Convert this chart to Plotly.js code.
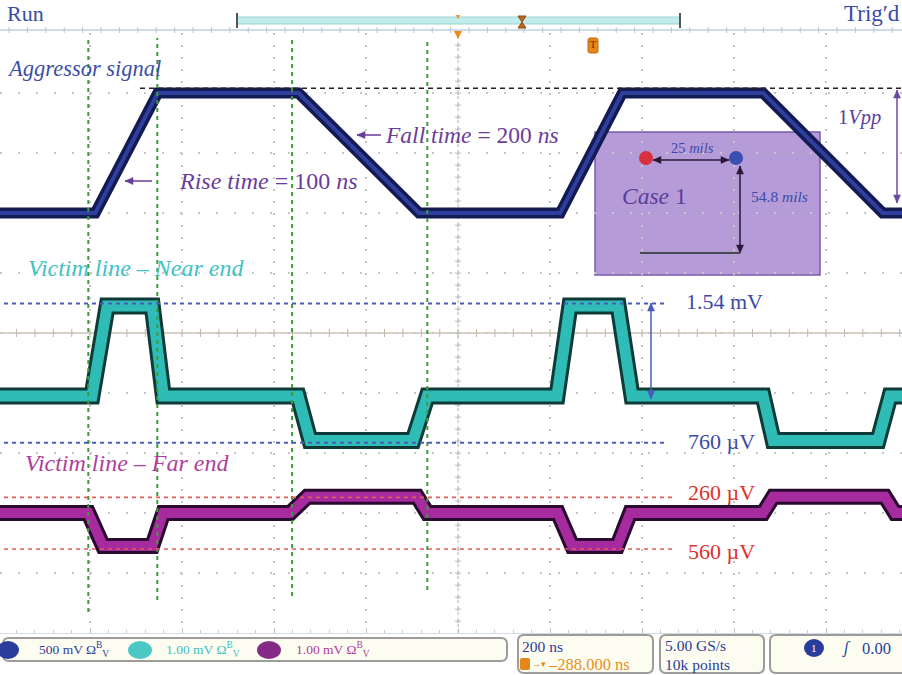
<!DOCTYPE html>
<html><head><meta charset="utf-8">
<script src="https://cdn.plot.ly/plotly-3.0.1.min.js"></script>
<style>html,body{margin:0;padding:0;background:#fff;}#chart{width:902px;height:675px;}</style>
</head><body><div id="chart"></div>
<script>
// ---------------- DATA ----------------
// time axis: ns, 200 ns/div, centre of graticule = 0 ns
const aggTimeNs   = [-996, -789, -653, -347, -85, 222, 357, 663, 923, 965];
const aggVolts    = [0, 0, 1, 1, 0, 0, 1, 1, 0, 0];                 // 500 mV/div

const nearTimeNs  = [-996, -796, -763, -665, -641, -348, -322, -98, -67, 215, 243, 348, 378, 663, 685, 913, 939, 965];
const nearMilliV  = [0, 0, 1.5, 1.5, 0, 0, -0.74, -0.74, 0, 0, 1.5, 1.5, 0, 0, -0.74, -0.74, 0, 0];   // 1 mV/div

const farTimeNs   = [-996, -804, -772, -665, -641, -365, -328, -89, -67, 217, 248, 346, 374, 663, 685, 928, 950, 965];
const farMilliV   = [0, 0, -0.55, -0.55, 0, 0, 0.27, 0.27, 0, 0, -0.55, -0.55, 0, 0, 0.27, 0.27, 0, 0];  // 1 mV/div

const nearCursorMilliV = [1.54, -0.78];
const nearCursorLabels = ['1.54 mV', '760 µV'];
const farCursorMilliV  = [0.26, -0.60];
const farCursorLabels  = ['260 µV', '560 µV'];
const aggHighCursorV   = 1.04;
const edgeMarkersNs    = [-804, -654, -361, -67];

const channelLabels = ['500 mV Ω<sup>B</sup><sub>V</sub>', '1.00 mV Ω<sup>B</sup><sub>V</sub>', '1.00 mV Ω<sup>B</sup><sub>V</sub>'];
const timePerDiv = '200 ns';
const triggerPos = '–288.000 ns';
const sampleRate = '5.00 GS/s';
const recordLen  = '10k points';
const trigLevel  = '0.00';

// ---------------- helpers (layout only) ----------------
const W = 902, H = 675;
const fx = p => p / W;
const fy = p => 1 - p / H;
const SERIF = 'Liberation Serif, DejaVu Serif, serif';
const ann = [];
const shp = [];
function txt(text, x, y, size, color, xa, ya) {
  ann.push({text: text, x: fx(x), y: fy(y), xref: 'paper', yref: 'paper', showarrow: false,
    xanchor: xa || 'left', yanchor: ya || 'middle', borderpad: 0, font: {family: SERIF, size: size, color: color}});
}
function pline(x0, y0, x1, y1, color, width, dash) {
  shp.push({type: 'line', xref: 'paper', yref: 'paper', x0: fx(x0), y0: fy(y0), x1: fx(x1), y1: fy(y1),
    line: {color: color, width: width, dash: dash || 'solid'}});
}
function head(hx, hy, tx, ty, color) {
  const dx = hx - tx, dy = hy - ty, L = Math.hypot(dx, dy), ux = dx / L, uy = dy / L;
  const len = 8, hw = 3.5;
  const bx = hx - ux * len, by = hy - uy * len;
  const p1 = [bx - uy * hw, by + ux * hw], p2 = [bx + uy * hw, by - ux * hw];
  shp.push({type: 'path', xref: 'paper', yref: 'paper',
    path: `M${fx(hx)},${fy(hy)} L${fx(p1[0])},${fy(p1[1])} L${fx(p2[0])},${fy(p2[1])} Z`,
    fillcolor: color, line: {color: color, width: 0.5}});
}
function arrow(hx, hy, tx, ty, color, both, w) {
  pline(tx, ty, hx, hy, color, w || 1.5);
  head(hx, hy, tx, ty, color);
  if (both) head(tx, ty, hx, hy, color);
}
function rrect(x0, y0, x1, y1, r) {
  const P = (x, y) => fx(x) + ',' + fy(y);
  return `M${P(x0 + r, y0)} L${P(x1 - r, y0)} Q${P(x1, y0)} ${P(x1, y0 + r)} L${P(x1, y1 - r)} Q${P(x1, y1)} ${P(x1 - r, y1)} L${P(x0 + r, y1)} Q${P(x0, y1)} ${P(x0, y1 - r)} L${P(x0, y0 + r)} Q${P(x0, y0)} ${P(x0 + r, y0)} Z`;
}
function circ(cx, cy, rx, ry, fill) {
  shp.push({type: 'circle', xref: 'paper', yref: 'paper', x0: fx(cx - rx), x1: fx(cx + rx), y0: fy(cy + ry), y1: fy(cy - ry),
    fillcolor: fill, line: {width: 0}});
}

// ---------------- traces ----------------
function band(x, y, yaxis, outer, inner, wo, wi) {
  return [
    {x: x, y: y, yaxis: yaxis, mode: 'lines', line: {color: outer, width: wo}, hoverinfo: 'skip', showlegend: false},
    {x: x, y: y, yaxis: yaxis, mode: 'lines', line: {color: inner, width: wi}, hoverinfo: 'skip', showlegend: false}
  ];
}
const data = [].concat(
  band(aggTimeNs, aggVolts, 'y', '#141a52', '#2f3f9e', 11, 4),
  band(nearTimeNs, nearMilliV, 'y2', '#0e3b38', '#2fbcb6', 17, 11),
  band(farTimeNs, farMilliV, 'y3', '#2a0a2e', '#a52b9e', 16, 10)
);

// ---------------- graticule decorations ----------------
shp.push({type: 'line', xref: 'paper', yref: 'y domain', x0: 0, x1: 1, y0: 0.5, y1: 0.5, line: {color: '#cbc3b3', width: 1.5}, layer: 'below'});
shp.push({type: 'line', xref: 'x', yref: 'y domain', x0: 0, x1: 0, y0: 0, y1: 1, line: {color: '#bdbdbd', width: 1.2, dash: '3px,3px'}, layer: 'below'});
for (let k = -25; k <= 25; k++) {
  shp.push({type: 'line', xref: 'x', yref: 'y domain', x0: k * 40, x1: k * 40, y0: 0.5 - 4 / 600, y1: 0.5 + 4 / 600, line: {color: '#bfb7a7', width: 1}, layer: 'below'});
}
for (let k = 1; k < 50; k++) {
  const yd = k / 50;
  shp.push({type: 'line', xref: 'x', yref: 'y domain', x0: -7, x1: 7, y0: yd, y1: yd, line: {color: '#bdbdbd', width: 1}, layer: 'below'});
}

// green edge markers
edgeMarkersNs.forEach((t, i) => {
  const yb = [612, 600, 596, 590][i];
  shp.push({type: 'line', xref: 'x', yref: 'paper', x0: t, x1: t, y0: fy(yb), y1: fy(38), line: {color: '#3f9a3f', width: 2, dash: '4px,4px'}});
});

// cursors
shp.push({type: 'line', xref: 'paper', yref: 'y', x0: fx(140), x1: 1, y0: aggHighCursorV, y1: aggHighCursorV, line: {color: '#222', width: 1.5, dash: '5px,4px'}});
nearCursorMilliV.forEach(v => {
  shp.push({type: 'line', xref: 'paper', yref: 'y2', x0: fx(4), x1: fx(666), y0: v, y1: v, line: {color: '#4b5bbb', width: 2, dash: '4px,4px'}});
});
farCursorMilliV.forEach(v => {
  shp.push({type: 'line', xref: 'paper', yref: 'y3', x0: fx(4), x1: fx(672), y0: v, y1: v, line: {color: '#e45a5a', width: 1.6, dash: '4px,4px'}});
});

// Case 1 box
shp.push({type: 'rect', xref: 'paper', yref: 'paper', x0: fx(595), x1: fx(820), y0: fy(275), y1: fy(132),
  fillcolor: 'rgba(150,112,200,0.70)', line: {color: '#7a5bb0', width: 1.5}, layer: 'below'});
circ(646, 158, 7, 7, '#d8303c');
circ(736, 158, 7, 7, '#3a4fb2');
arrow(729, 160, 653, 160, '#2a1838', true, 1.5);
arrow(740, 166, 740, 253, '#2a1838', true, 1.5);
pline(640, 253, 740, 253, '#4a4a55', 2);

// top record bar & markers
shp.push({type: 'rect', xref: 'paper', yref: 'paper', x0: fx(237), x1: fx(680), y0: fy(24), y1: fy(17), fillcolor: '#c2ecec', line: {color: '#9ad2d2', width: 1}});
pline(237, 13, 237, 28, '#555', 2);
pline(680, 13, 680, 28, '#555', 2);
pline(0, 30, 902, 30, '#cfdbe6', 2);
for (let k = 0; k <= 49; k++) pline(9 + k * 18.4, 27, 9 + k * 18.4, 33, '#b9c5d2', 1);
shp.push({type: 'path', xref: 'paper', yref: 'paper', path: `M${fx(454)},${fy(31)} L${fx(462)},${fy(31)} L${fx(458)},${fy(39)} Z`, fillcolor: '#f08a1a', line: {width: 0}});
shp.push({type: 'path', xref: 'paper', yref: 'paper', path: `M${fx(456)},${fy(15)} L${fx(460)},${fy(15)} L${fx(458)},${fy(19)} Z`, fillcolor: '#f08a1a', line: {width: 0}});
shp.push({type: 'path', xref: 'paper', yref: 'paper', path: `M${fx(518)},${fy(16)} L${fx(526)},${fy(16)} L${fx(522)},${fy(22)} Z M${fx(518)},${fy(28)} L${fx(526)},${fy(28)} L${fx(522)},${fy(22)} Z`, fillcolor: '#c0661a', line: {color: '#8a4a10', width: 1}});
shp.push({type: 'path', xref: 'paper', yref: 'paper', path: rrect(588, 38, 598, 53, 2), fillcolor: '#e8861c', line: {color: '#c06a10', width: 1}});
txt('T', 593, 45, 10, '#5a2e00', 'center');

// ---------------- status bar ----------------
const boxFill = '#fdfcf0', boxLine = '#9c9c9c';
[[3, 638, 507, 661], [518, 635, 653, 673], [660, 635, 764, 673], [770, 635, 910, 673]].forEach(b => {
  shp.push({type: 'path', xref: 'paper', yref: 'paper', path: rrect(b[0], b[1], b[2], b[3], 6), fillcolor: boxFill, line: {color: boxLine, width: 2}});
});
circ(8, 650, 11, 9, '#2a3c9c');
circ(140, 650, 12, 9, '#4cc8c4');
circ(269, 650, 12, 9, '#862a88');
txt(channelLabels[0], 38, 649, 13.5, '#2a3c9c');
txt(channelLabels[1], 165, 649, 13.5, '#3cc0c0');
txt(channelLabels[2], 295, 649, 13.5, '#b03a9e');
txt(timePerDiv, 521, 646, 15.5, '#2a3c9c');
shp.push({type: 'path', xref: 'paper', yref: 'paper', path: rrect(520, 658, 530, 670, 2), fillcolor: '#e8861c', line: {width: 0}});
txt('<b>→▾</b>', 531, 664, 9, '#e8861c');
txt(triggerPos, 547, 664, 16.5, '#e8901a');
txt(sampleRate, 664, 645, 15.5, '#2a3c9c');
txt(recordLen, 664, 664, 15.5, '#2a3c9c');
circ(814, 648, 10, 9, '#2a3c9c');
txt('1', 814, 648, 11, '#ffffff', 'center');
txt('<i>ʃ</i>', 846, 648, 16, '#2a3c9c', 'center');
txt(trigLevel, 861, 648, 16.5, '#2a3c9c');

// ---------------- text annotations ----------------
txt('Run', 6, 14, 22, '#3a4aa8');
txt('Trig′d', 901, 14, 23, '#3a4aa8', 'right');
txt('<i>Aggressor signal</i>', 6, 68, 22.5, '#3d4ea6');
txt('<i>Fall time</i> = 200 <i>ns</i>', 384, 135, 23.5, '#6a3d9a');
arrow(357, 135, 381, 135, '#6a3d9a', false, 1.5);
txt('<i>Rise time</i> = 100 <i>ns</i>', 178, 181, 24, '#6a3d9a');
arrow(125, 181, 152, 181, '#6a3d9a', false, 1.5);
txt('1<i>Vpp</i>', 837, 118, 20.5, '#5a3e9c');
arrow(897, 90, 897, 203, '#6a4aa0', true, 1.5);
txt('25 <i>mils</i>', 692, 157, 14.5, '#3a4aa8', 'center', 'bottom');
txt('54.8 <i>mils</i>', 779, 196, 15.5, '#3a4aa8', 'center');
txt('<i>Case</i> 1', 654, 196, 23.5, '#5a3e9c', 'center');
txt('<i>Victim line – Near end</i>', 27, 268, 24, '#3fc2c4');
txt('<i>Victim line – Far end</i>', 24, 463, 24, '#b0409e');
txt(nearCursorLabels[0], 685, 301, 22, '#3a4aa8');
txt(nearCursorLabels[1], 687, 441, 22, '#3a4aa8');
txt(farCursorLabels[0], 687, 492, 22, '#e0302a');
txt(farCursorLabels[1], 687, 551, 22, '#e0302a');
arrow(651, 303, 651, 399, '#4b5bbb', true, 1.5);

// ---------------- layout ----------------
const dom = [fy(633), fy(33)];
const layout = {
  width: W, height: H,
  margin: {l: 0, r: 0, t: 0, b: 0},
  paper_bgcolor: '#ffffff', plot_bgcolor: '#ffffff',
  showlegend: false,
  xaxis: {domain: [0, 1], range: [-996, 965], dtick: 200, tick0: 0, showgrid: true, gridcolor: '#c6c6c6', gridwidth: 1.5,
    griddash: '2px,10px', zeroline: false, showticklabels: false, showline: true, linecolor: '#d2dbe4', linewidth: 1,
    mirror: false, ticks: 'inside', ticklen: 5, tickcolor: '#b8c2cc',
    minor: {dtick: 40, tick0: 0, ticks: 'inside', ticklen: 3, tickcolor: '#c4ccd6', showgrid: false}, fixedrange: true},
  yaxis: {domain: dom, range: [-3.5, 1.5], dtick: 0.5, tick0: 0, showgrid: true, gridcolor: '#c6c6c6', gridwidth: 1.5,
    griddash: '2px,16px', zeroline: false, showticklabels: false, showline: false, ticks: '', fixedrange: true},
  yaxis2: {domain: dom, overlaying: 'y', range: [-3.95, 6.05], visible: false, fixedrange: true},
  yaxis3: {domain: dom, overlaying: 'y', range: [-2.0, 8.0], visible: false, fixedrange: true},
  shapes: shp,
  annotations: ann
};
Plotly.newPlot('chart', data, layout, {staticPlot: true, displayModeBar: false});
</script>
</body></html>
